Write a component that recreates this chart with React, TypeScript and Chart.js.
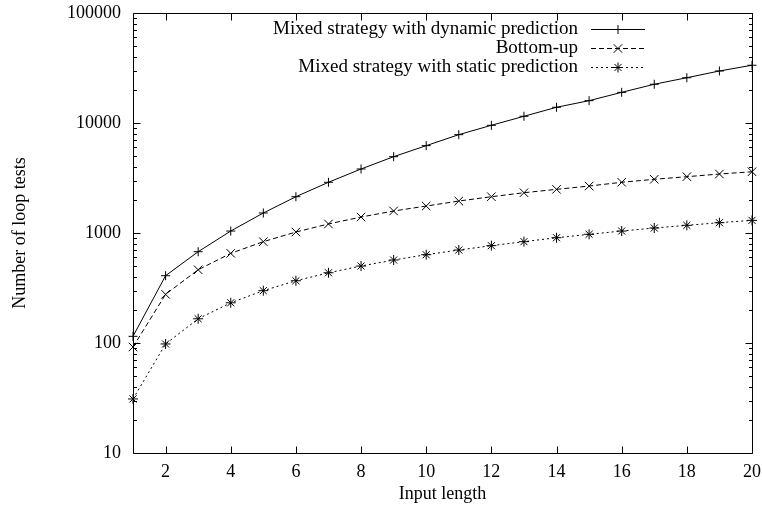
import React, { useEffect, useRef } from "react";
import { Chart, registerables } from "chart.js";
import { drawPoint } from "chart.js/helpers";

Chart.register(...registerables);

const inputLengths = [1, 2, 3, 4, 5, 6, 7, 8, 9, 10, 11, 12, 13, 14, 15, 16, 17, 18, 19, 20];
const dynamicPrediction = [115, 409, 676, 1042, 1520, 2137, 2891, 3818, 4941, 6223, 7834, 9530, 11510, 13900, 15960, 19000, 22500, 25800, 29700, 33500];
const bottomUp = [92, 277, 463, 653, 834, 1021, 1208, 1397, 1585, 1758, 1953, 2137, 2324, 2494, 2673, 2891, 3078, 3250, 3438, 3604];
const staticPrediction = [31, 98, 166, 232, 299, 368, 435, 501, 568, 635, 700, 767, 834, 906, 973, 1042, 1110, 1174, 1241, 1303];
const seriesLabels = [
  "Mixed strategy with dynamic prediction",
  "Bottom-up",
  "Mixed strategy with static prediction",
];
const xTickValues = [2, 4, 6, 8, 10, 12, 14, 16, 18, 20];
const yTickValues = [10, 100, 1000, 10000, 100000];
const xTitle = "Input length";
const yTitle = "Number of loop tests";

const FONT = "Liberation Serif";
const FONT_SIZE = 18;
const LEGEND_FONT_SIZE = 19;

const boxAndTicks = {
  id: "boxAndTicks",
  afterDraw(chart: any) {
    const { ctx, chartArea } = chart;
    const { left, right, top, bottom } = chartArea;
    const xs = chart.scales.x;
    const ys = chart.scales.y;
    ctx.save();
    ctx.strokeStyle = "#000";
    ctx.lineWidth = 1;
    ctx.setLineDash([]);
    ctx.beginPath();
    const L = Math.round(left) + 0.5;
    const R = Math.round(right) + 0.5;
    const T = Math.round(top) + 0.5;
    const B = Math.round(bottom) + 0.5;
    ctx.rect(L, T, R - L, B - T);
    for (const v of xTickValues) {
      const px = Math.round(xs.getPixelForValue(v)) + 0.5;
      ctx.moveTo(px, B);
      ctx.lineTo(px, B - 7);
      ctx.moveTo(px, T);
      ctx.lineTo(px, T + 7);
    }
    for (let i = 0; i < yTickValues.length; i++) {
      const d = yTickValues[i];
      const py = Math.round(ys.getPixelForValue(d)) + 0.5;
      ctx.moveTo(L, py);
      ctx.lineTo(L + 7, py);
      ctx.moveTo(R, py);
      ctx.lineTo(R - 7, py);
      if (i < yTickValues.length - 1) {
        for (let k = 2; k <= 9; k++) {
          const pm = Math.round(ys.getPixelForValue(d * k)) + 0.5;
          ctx.moveTo(L, pm);
          ctx.lineTo(L + 3.5, pm);
          ctx.moveTo(R, pm);
          ctx.lineTo(R - 3.5, pm);
        }
      }
    }
    ctx.stroke();
    ctx.restore();
  },
};

const rightLegend = {
  id: "rightLegend",
  afterDraw(chart: any) {
    const { ctx } = chart;
    const textRight = 578;
    const lineStart = 591;
    const lineEnd = 645;
    const rowY = [28.5, 47.5, 66.5];
    ctx.save();
    ctx.font = `${LEGEND_FONT_SIZE}px "${FONT}"`;
    ctx.fillStyle = "#000";
    ctx.textAlign = "right";
    ctx.textBaseline = "middle";
    chart.data.datasets.forEach((ds: any, i: number) => {
      const y = rowY[i];
      ctx.fillText(ds.label, textRight, y + 1);
      ctx.strokeStyle = ds.borderColor;
      ctx.lineWidth = ds.borderWidth;
      ctx.setLineDash(ds.borderDash || []);
      ctx.beginPath();
      ctx.moveTo(lineStart, Math.round(y) + 0.5);
      ctx.lineTo(lineEnd, Math.round(y) + 0.5);
      ctx.stroke();
      ctx.setLineDash([]);
      ctx.lineWidth = ds.pointBorderWidth;
      drawPoint(
        ctx,
        { pointStyle: ds.pointStyle, radius: ds.pointRadius, rotation: 0, borderWidth: ds.pointBorderWidth },
        (lineStart + lineEnd) / 2,
        Math.round(y) + 0.5
      );
    });
    ctx.restore();
  },
};

function makeData(vals: number[]) {
  return inputLengths.map((x, i) => ({ x, y: vals[i] }));
}

function zeroPadding(scale: any) {
  scale.paddingTop = 0;
  scale.paddingBottom = 0;
  scale.paddingLeft = 0;
  scale.paddingRight = 0;
}

export default function App() {
  const ref = useRef<HTMLCanvasElement | null>(null);
  useEffect(() => {
    if (!ref.current) return;
    const common = {
      borderColor: "#000",
      backgroundColor: "#000",
      pointBorderColor: "#000",
      pointBackgroundColor: "transparent",
      borderWidth: 1,
      pointBorderWidth: 1,
      pointHoverRadius: 0,
      fill: false,
      tension: 0,
      clip: false as any,
    };
    const chart = new Chart(ref.current, {
      type: "line",
      data: {
        datasets: [
          {
            ...common,
            label: seriesLabels[0],
            data: makeData(dynamicPrediction),
            pointStyle: "cross",
            pointRadius: 4.5,
            borderDash: [],
          },
          {
            ...common,
            label: seriesLabels[1],
            data: makeData(bottomUp),
            pointStyle: "crossRot",
            pointRadius: 6,
            borderDash: [5, 3],
          },
          {
            ...common,
            label: seriesLabels[2],
            data: makeData(staticPrediction),
            pointStyle: "star",
            pointRadius: 5,
            borderDash: [2, 3],
          },
        ],
      },
      options: {
        responsive: false,
        animation: false,
        events: [],
        layout: { padding: { top: 13, right: 10, left: 0, bottom: 0 } },
        plugins: {
          legend: { display: false },
          tooltip: { enabled: false },
          title: { display: false },
        },
        scales: {
          x: {
            type: "linear",
            min: 1,
            max: 20,
            grid: { display: false, drawTicks: false },
            border: { display: false },
            ticks: {
              color: "#000",
              font: { family: FONT, size: FONT_SIZE },
              padding: 8,
              maxRotation: 0,
              autoSkip: false,
            },
            afterBuildTicks(scale: any) {
              scale.ticks = xTickValues.map((v) => ({ value: v }));
            },
            afterFit(scale: any) {
              scale.height = 61;
              zeroPadding(scale);
            },
            title: {
              display: true,
              text: xTitle,
              color: "#000",
              font: { family: FONT, size: FONT_SIZE },
              padding: { top: 0, bottom: 9 },
            },
          },
          y: {
            type: "logarithmic",
            min: 10,
            max: 100000,
            grid: { display: false, drawTicks: false },
            border: { display: false },
            ticks: {
              color: "#000",
              font: { family: FONT, size: FONT_SIZE },
              padding: 12,
              autoSkip: false,
              callback: (v: any) => String(v),
            },
            afterBuildTicks(scale: any) {
              scale.ticks = yTickValues.map((v) => ({ value: v }));
            },
            afterFit(scale: any) {
              scale.width = 133;
              zeroPadding(scale);
            },
            title: {
              display: true,
              text: yTitle,
              color: "#000",
              font: { family: FONT, size: FONT_SIZE },
              padding: { top: 9, bottom: 0 },
            },
          },
        },
      },
      plugins: [boxAndTicks, rightLegend],
    });
    return () => chart.destroy();
  }, []);
  return (
    <div style={{ position: "fixed", left: 0, top: 0, width: 762, height: 514, background: "#fff" }}>
      <canvas ref={ref} width={762} height={514} style={{ display: "block", width: 762, height: 514 }} />
    </div>
  );
}
